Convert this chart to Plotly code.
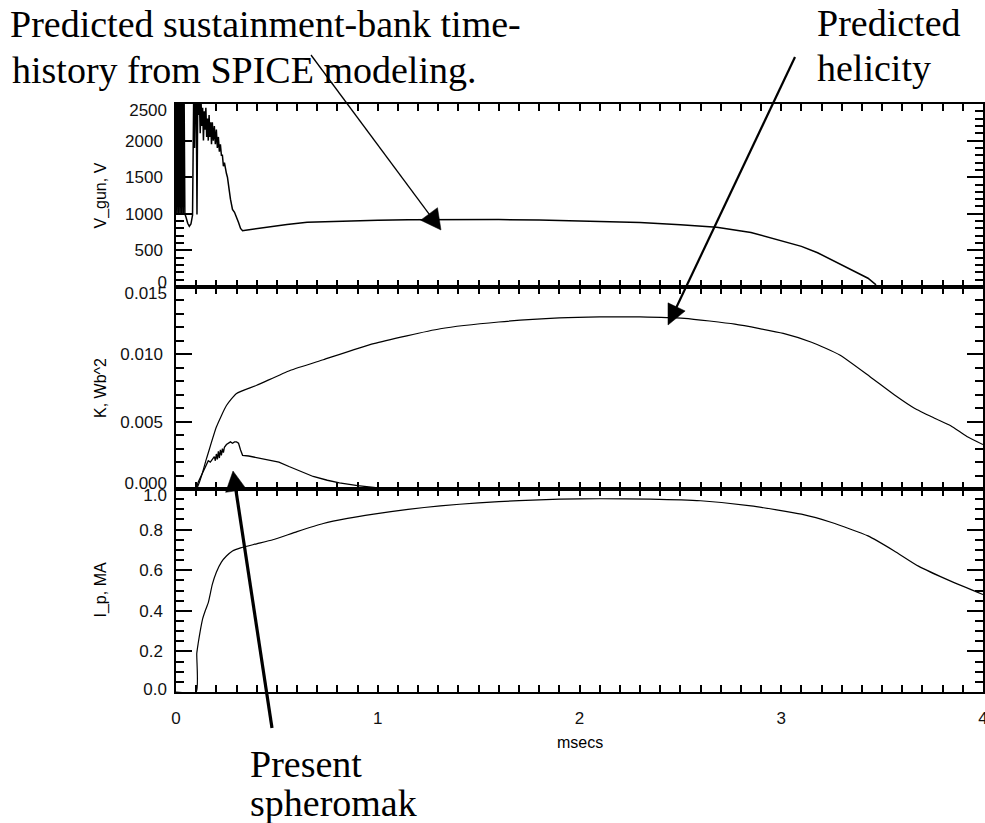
import math
import plotly.graph_objects as go

# ---------------- data ----------------
t_v = [0.000, 0.004, 0.008, 0.012, 0.016, 0.020, 0.024, 0.028, 0.032, 0.036, 0.040, 0.044,
       0.050, 0.058, 0.066, 0.074, 0.082, 0.088, 0.092, 0.096, 0.100, 0.104, 0.108, 0.112,
       0.116, 0.120, 0.124, 0.128, 0.132, 0.136, 0.140, 0.144, 0.148, 0.152, 0.156, 0.160,
       0.164, 0.168, 0.172, 0.176, 0.180, 0.185, 0.190, 0.195, 0.200, 0.205, 0.210, 0.215,
       0.220, 0.225, 0.230, 0.235, 0.240, 0.245, 0.250, 0.255, 0.260, 0.265, 0.270, 0.275,
       0.280, 0.290, 0.300, 0.310, 0.320, 0.330, 0.345, 0.370, 0.400, 0.480, 0.550, 0.650,
       0.800, 1.000, 1.150, 1.400, 1.600, 1.800, 2.000, 2.100, 2.300, 2.500, 2.680, 2.850,
       3.010, 3.100, 3.180, 3.260, 3.350, 3.430, 3.470]
v_gun = [2700, 1000, 2700, 1000, 2700, 1000, 2700, 1000, 2700, 1000, 2700, 1000,
         950, 870, 830, 860, 980, 2700, 1900, 2700, 2700, 990, 2700, 2350,
         2600, 2100, 2550, 2200, 2450, 2000, 2400, 2150, 2450, 2050, 2300, 2000,
         2350, 2050, 2250, 1950, 2250, 2000, 2200, 1950, 2150, 1900, 2050, 1850,
         1950, 1800, 1800, 1650, 1700, 1600, 1550, 1500, 1420, 1300, 1200, 1100,
         1060, 1020, 960, 880, 800, 770, 775, 785, 795, 830, 855, 885,
         900, 912, 920, 925, 922, 915, 900, 890, 880, 852, 815, 745,
         630, 555, 468, 360, 236, 120, 28]

t_k = [0.00, 0.10, 0.15, 0.20, 0.25, 0.30, 0.40, 0.565, 0.73, 0.98, 1.31, 1.60, 1.90,
       2.10, 2.30, 2.52, 2.77, 3.01, 3.15, 3.29, 3.44, 3.56, 3.66, 3.76, 3.84, 3.92, 4.00]
k_helicity = [0.0, 0.0, 0.0022, 0.0046, 0.0062, 0.0071, 0.0077, 0.0088, 0.0096, 0.0108,
              0.0119, 0.0124, 0.0127, 0.01278, 0.01278, 0.01267, 0.01224, 0.01156, 0.0109,
              0.00995, 0.00834, 0.0070, 0.0060, 0.00526, 0.0047, 0.0039, 0.0033]

t_s = [0.00, 0.10, 0.11, 0.12, 0.13, 0.14, 0.15, 0.16, 0.17, 0.18, 0.19, 0.195, 0.20,
       0.205, 0.21, 0.215, 0.22, 0.225, 0.23, 0.235, 0.24, 0.25, 0.26, 0.27, 0.28, 0.29,
       0.30, 0.31, 0.32, 0.33, 0.36, 0.41, 0.46, 0.51, 0.56, 0.62, 0.68, 0.75, 0.81, 0.90,
       0.99, 1.10, 1.25, 4.00]
k_spheromak = [0.0, 0.0, 0.0005, 0.0008, 0.0012, 0.0015, 0.0018, 0.0021, 0.0020, 0.0022,
               0.0024, 0.0021, 0.0026, 0.0022, 0.0028, 0.0023, 0.0029, 0.0025, 0.0030,
               0.0027, 0.0031, 0.0033, 0.0034, 0.0035, 0.0034, 0.0035, 0.0035, 0.0034,
               0.0029, 0.0025, 0.00245, 0.0023, 0.0022, 0.0020, 0.00167, 0.0013, 0.00093,
               0.00065, 0.00046, 0.00025, 0.0001, 0.00003, 0.0, 0.0]

t_i = [0.00, 0.100, 0.103, 0.11, 0.12, 0.132, 0.145, 0.16, 0.18, 0.20, 0.225, 0.25, 0.28,
       0.32, 0.40, 0.48, 0.60, 0.73, 0.85, 0.98, 1.15, 1.31, 1.50, 1.70, 1.90, 2.10, 2.35,
       2.60, 2.85, 3.10, 3.25, 3.43, 3.56, 3.68, 3.84, 4.00]
i_p = [0.0, 0.0, 0.19, 0.24, 0.30, 0.36, 0.40, 0.44, 0.53, 0.59, 0.64, 0.67, 0.695,
       0.71, 0.73, 0.75, 0.79, 0.83, 0.855, 0.876, 0.90, 0.917, 0.932, 0.943, 0.950,
       0.952, 0.950, 0.942, 0.917, 0.876, 0.835, 0.769, 0.695, 0.62, 0.546, 0.48]

v_ticks = [0, 500, 1000, 1500, 2000, 2500]
v_ticktext = ["0", "500", "1000", "1500", "2000", "2500"]
k_ticks = [0.0, 0.005, 0.010, 0.015]
k_ticktext = ["0.000", "0.005", "0.010", "0.015"]
i_ticks = [0.0, 0.2, 0.4, 0.6, 0.8, 1.0]
i_ticktext = ["0.0", "0.2", "0.4", "0.6", "0.8", "1.0"]
x_ticks = [0, 1, 2, 3, 4]
x_ticktext = ["0", "1", "2", "3", "4"]

# ---------------- layout helpers ----------------
W, H = 985, 823
def fx(p):
    return p / W
def fy(p):
    return 1 - p / H

X0, X1 = 176, 983
Y_TOP, Y_B1, Y_B2, Y_BOT = 104, 287, 489, 692
XR = [0, 4]

TICKFONT = dict(family="Liberation Sans, Arial, sans-serif", size=17, color="#111")
SERIF = "Liberation Serif, Times New Roman, serif"
SANS = "Liberation Sans, Arial, sans-serif"

fig = go.Figure()
fig.add_trace(go.Scatter(x=t_v, y=v_gun, mode="lines", xaxis="x", yaxis="y",
                         line=dict(color="black", width=1.5), hoverinfo="skip"))
fig.add_trace(go.Scatter(x=t_k, y=k_helicity, mode="lines", xaxis="x2", yaxis="y2",
                         line=dict(color="black", width=1.2, shape="spline", smoothing=0.5),
                         hoverinfo="skip"))
fig.add_trace(go.Scatter(x=t_s, y=k_spheromak, mode="lines", xaxis="x2", yaxis="y2",
                         line=dict(color="black", width=1.3), hoverinfo="skip"))
fig.add_trace(go.Scatter(x=t_i, y=i_p, mode="lines", xaxis="x3", yaxis="y3",
                         line=dict(color="black", width=1.2, shape="spline", smoothing=0.5),
                         hoverinfo="skip"))

layout = dict(width=W, height=H, margin=dict(l=0, r=0, t=0, b=0),
              paper_bgcolor="white", plot_bgcolor="white", showlegend=False,
              template="none")
shapes = []
annotations = []

# x axes (one per panel), ticks inside and mirrored
for i, anchor in enumerate(["y", "y2", "y3"], start=1):
    layout["xaxis" if i == 1 else f"xaxis{i}"] = dict(
        range=XR, domain=[fx(X0), fx(X1)], anchor=anchor,
        showline=True, linecolor="black", linewidth=1.5, mirror="allticks",
        ticks="inside", ticklen=7, tickwidth=2, tickcolor="black",
        minor=dict(dtick=0.1, tick0=0, ticks="inside", ticklen=4, tickwidth=1.6,
                   tickcolor="black"),
        tickmode="array", tickvals=x_ticks, ticktext=x_ticktext,
        showticklabels=(i == 3), tickfont=TICKFONT, ticklabeloverflow="allow",
        ticklabelstandoff=10, showgrid=False, zeroline=False, fixedrange=True)

panels = [
    ("y", "x", (Y_TOP, Y_B1), [0, 2500], v_ticks, v_ticktext, 100, -5),
    ("y2", "x2", (Y_B1, Y_B2), [0, 0.015], k_ticks, k_ticktext, 0.001, -6),
    ("y3", "x3", (Y_B2, Y_BOT), [0, 1.0], i_ticks, i_ticktext, 0.05, -3),
]

n_extra = 4
for j, (yid, xid, dom, rng, tv, tt, mdt, low_shift) in enumerate(panels):
    name = "yaxis" if yid == "y" else "yaxis" + yid[1:]
    inner = [t if 0 < k < len(tt) - 1 else "" for k, t in enumerate(tt)]
    layout[name] = dict(range=rng, domain=[fy(dom[1]), fy(dom[0])], anchor=xid,
                        showline=True, linecolor="black", linewidth=1.5, mirror="allticks",
                        ticks="inside", ticklen=16, tickwidth=2, tickcolor="black",
                        minor=dict(dtick=mdt, tick0=0, ticks="inside", ticklen=8,
                                   tickwidth=1.6, tickcolor="black"),
                        tickmode="array", tickvals=tv, ticktext=inner,
                        tickfont=TICKFONT, ticklabelstandoff=8,
                        showgrid=False, zeroline=False, fixedrange=True)
    # end labels nudged inward (as in the reference) on overlaid axes
    for val, txt, shift in [(tv[0], tt[0], low_shift), (tv[-1], tt[-1], 6)]:
        ov = f"y{n_extra}"
        layout[f"yaxis{n_extra}"] = dict(
            range=rng, domain=[fy(dom[1]), fy(dom[0])], anchor=xid, overlaying=yid,
            showline=False, ticks="", tickmode="array", tickvals=[val], ticktext=[txt],
            tickfont=TICKFONT, ticklabelshift=shift, ticklabelstandoff=8,
            showgrid=False, zeroline=False, fixedrange=True)
        fig.add_trace(go.Scatter(x=[None], y=[None], xaxis=xid, yaxis=ov, mode="lines",
                                 hoverinfo="skip", showlegend=False))
        n_extra += 1


def text(s, x, y, size=38, family=SERIF, anchor="left", angle=0):
    annotations.append(dict(text=s, x=fx(x), y=fy(y), xref="paper", yref="paper",
                            xanchor=anchor, yanchor="middle", showarrow=False,
                            textangle=angle, font=dict(family=family, size=size, color="black")))


def arrow(tail, tip, width, hl, hw):
    dx, dy = tip[0] - tail[0], tip[1] - tail[1]
    L = math.hypot(dx, dy)
    ux, uy = dx / L, dy / L
    bx, by = tip[0] - ux * hl, tip[1] - uy * hl
    shapes.append(dict(type="line", xref="paper", yref="paper",
                       x0=fx(tail[0]), y0=fy(tail[1]), x1=fx(bx + ux * 2), y1=fy(by + uy * 2),
                       line=dict(color="black", width=width)))
    px_, py_ = -uy, ux
    pts = [(tip[0], tip[1]), (bx + px_ * hw / 2, by + py_ * hw / 2),
           (bx - px_ * hw / 2, by - py_ * hw / 2)]
    path = "M " + " L ".join(f"{fx(a):.5f},{fy(b):.5f}" for a, b in pts) + " Z"
    shapes.append(dict(type="path", xref="paper", yref="paper", path=path,
                       fillcolor="black", line=dict(color="black", width=0.5)))


# axis titles
text("V_gun, V", 100, (Y_TOP + Y_B1) / 2, size=16, family=SANS, anchor="center", angle=-90)
text("K, Wb^2", 100, (Y_B1 + Y_B2) / 2, size=16, family=SANS, anchor="center", angle=-90)
text("I_p, MA", 100, (Y_B2 + Y_BOT) / 2, size=16, family=SANS, anchor="center", angle=-90)
text("msecs", (X0 + X1) / 2, 742, size=16, family=SANS, anchor="center")

# callout texts
text("Predicted sustainment-bank time-", 8, 24)
text("history from SPICE modeling.", 10, 70)
text("Predicted", 815, 23)
text("helicity", 815, 68)
text("Present", 248, 764)
text("spheromak", 248, 803)

arrow((311, 55), (441, 230), 1.3, 20, 21)
arrow((795, 57), (668, 325), 2.2, 20, 19)
arrow((272, 728), (233, 471), 3.2, 20, 21)

layout["annotations"] = annotations
layout["shapes"] = shapes
fig.update_layout(**layout)

fig.write_html("out.html")
